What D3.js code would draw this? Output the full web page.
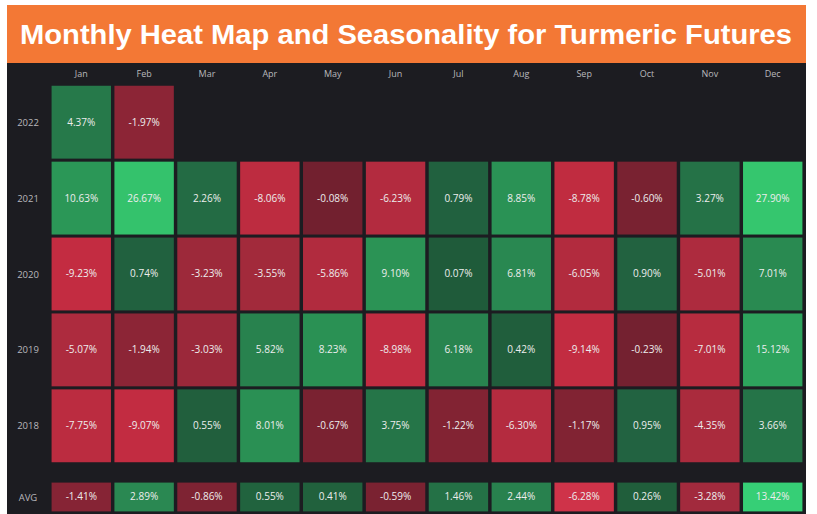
<!DOCTYPE html>
<html>
<head>
<meta charset="utf-8">
<script src="https://cdn.jsdelivr.net/npm/d3@7"></script>
<style>
  body { margin: 0; background: #fff; }
  svg { display: block; font-family: "Open Sans", "Liberation Sans", sans-serif; }
</style>
</head>
<body>
<div id="chart"></div>
<script>
const months = ['Jan', 'Feb', 'Mar', 'Apr', 'May', 'Jun', 'Jul', 'Aug', 'Sep', 'Oct', 'Nov', 'Dec'];
const years = ['2022', '2021', '2020', '2019', '2018'];

// monthly returns (%) per year, null where no data yet
const r2022 = [4.37, -1.97, null, null, null, null, null, null, null, null, null, null];
const r2021 = [10.63, 26.67, 2.26, -8.06, -0.08, -6.23, 0.79, 8.85, -8.78, -0.60, 3.27, 27.90];
const r2020 = [-9.23, 0.74, -3.23, -3.55, -5.86, 9.10, 0.07, 6.81, -6.05, 0.90, -5.01, 7.01];
const r2019 = [-5.07, -1.94, -3.03, 5.82, 8.23, -8.98, 6.18, 0.42, -9.14, -0.23, -7.01, 15.12];
const r2018 = [-7.75, -9.07, 0.55, 8.01, -0.67, 3.75, -1.22, -6.30, -1.17, 0.95, -4.35, 3.66];
const avg = [-1.41, 2.89, -0.86, 0.55, 0.41, -0.59, 1.46, 2.44, -6.28, 0.26, -3.28, 13.42];

const rows = [r2022, r2021, r2020, r2019, r2018];
const title = 'Monthly Heat Map and Seasonality for Turmeric Futures';

const width = 817, height = 514;

const svg = d3.select('#chart').append('svg')
  .attr('width', width).attr('height', height);

// title bar
svg.append('rect').attr('x', 7).attr('y', 5).attr('width', 799).attr('height', 58)
  .attr('fill', '#f37835');
svg.append('text').attr('x', 406).attr('y', 44)
  .attr('text-anchor', 'middle').attr('fill', '#fff')
  .attr('font-family', '"Liberation Sans", Arial, sans-serif')
  .attr('font-weight', 'bold').attr('font-size', 28)
  .attr('textLength', 772).attr('lengthAdjust', 'spacingAndGlyphs')
  .text(title);

// dark panel
svg.append('rect').attr('x', 7).attr('y', 63).attr('width', 799).attr('height', 451)
  .attr('fill', '#1c1c21');

const x = d3.scaleBand().domain(months).range([50, 804])
  .paddingInner(0.055).paddingOuter(0.025);
const y = d3.scaleBand().domain(years).range([85, 463])
  .paddingInner(0.04).paddingOuter(0.01);
const yAvg = d3.scaleBand().domain(['AVG']).range([482, 512]).padding(0.02);

const posColor = d3.scaleLinear().domain([0, 1, 8, 28])
  .range(['#1f5a39', '#226341', '#2a9054', '#35c66e']).clamp(true);
const negColor = d3.scaleLinear().domain([-9.5, -4, 0])
  .range(['#c42c41', '#a82b3d', '#71202f']).clamp(true);
const avgPos = d3.scaleLinear().domain([0, 3, 13.42])
  .range(['#1f5a39', '#2a8a53', '#36cf76']).clamp(true);
const avgNeg = d3.scaleLinear().domain([-6.28, 0])
  .range(['#cf3349', '#71202f']).clamp(true);

const fmt = v => v.toFixed(2) + '%';

const cells = [];
rows.forEach((r, i) => r.forEach((v, j) => {
  if (v !== null) cells.push({ year: years[i], month: months[j], value: v });
}));

const grid = svg.append('g');
const cg = grid.selectAll('g.cell').data(cells).join('g').attr('class', 'cell')
  .attr('transform', d => `translate(${x(d.month)}, ${y(d.year)})`);
cg.append('rect')
  .attr('width', x.bandwidth()).attr('height', y.bandwidth())
  .attr('fill', d => d.value >= 0 ? posColor(d.value) : negColor(d.value));
cg.append('text')
  .attr('x', x.bandwidth() / 2).attr('y', y.bandwidth() / 2 + 3.5)
  .attr('text-anchor', 'middle').attr('fill', '#ededed').attr('font-size', 10)
  .text(d => fmt(d.value));

const ag = svg.append('g').selectAll('g').data(avg).join('g')
  .attr('transform', (d, j) => `translate(${x(months[j])}, ${yAvg('AVG')})`);
ag.append('rect')
  .attr('width', x.bandwidth()).attr('height', yAvg.bandwidth())
  .attr('fill', d => d >= 0 ? avgPos(d) : avgNeg(d));
ag.append('text')
  .attr('x', x.bandwidth() / 2).attr('y', yAvg.bandwidth() / 2 + 3.5)
  .attr('text-anchor', 'middle').attr('fill', '#ededed').attr('font-size', 10)
  .text(d => fmt(d));

// month labels
svg.append('g').selectAll('text').data(months).join('text')
  .attr('x', d => x(d) + x.bandwidth() / 2).attr('y', 77)
  .attr('text-anchor', 'middle').attr('fill', '#b8b8bc').attr('font-size', 9)
  .text(d => d);

// row labels
svg.append('g').selectAll('text').data(years.concat(['AVG'])).join('text')
  .attr('x', 28)
  .attr('y', d => (d === 'AVG' ? yAvg(d) + yAvg.bandwidth() / 2 : y(d) + y.bandwidth() / 2) + 3.5)
  .attr('text-anchor', 'middle').attr('fill', '#b8b8bc').attr('font-size', 9.5)
  .text(d => d);
</script>
</body>
</html>
